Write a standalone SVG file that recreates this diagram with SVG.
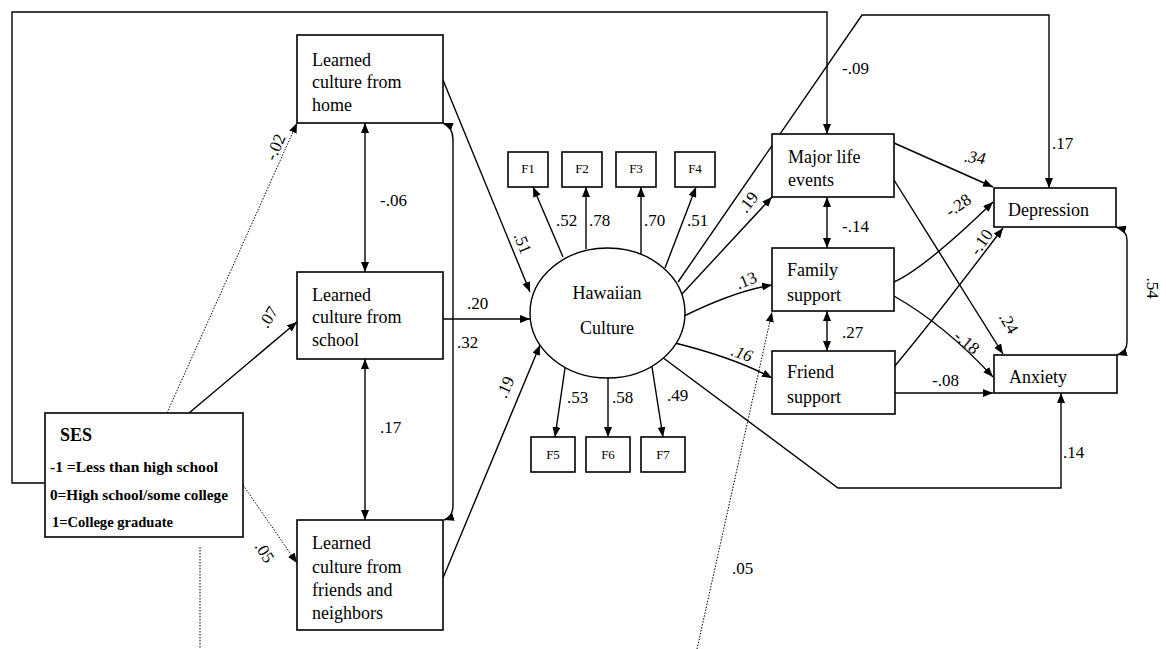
<svg xmlns="http://www.w3.org/2000/svg" width="1166" height="649" viewBox="0 0 1166 649">
<defs>
<marker id="ah" markerUnits="userSpaceOnUse" markerWidth="10" markerHeight="8" refX="10" refY="4" orient="auto-start-reverse">
<path d="M0,0 L10,4 L0,8 z" fill="#000"/>
</marker>
<style>
.box{fill:#fff;stroke:#000;stroke-width:1.6}
.t{font-family:"Liberation Serif","Times New Roman",serif;font-size:18px;fill:#000}
.f{font-family:"Liberation Serif","Times New Roman",serif;font-size:13px;fill:#000;text-anchor:middle}
.n{font-family:"Liberation Serif","Times New Roman",serif;font-size:17px;fill:#000}
.r{font-family:"Liberation Serif","Times New Roman",serif;font-size:17px;fill:#000;text-anchor:middle}
.s{font-family:"Liberation Serif","Times New Roman",serif;font-size:14px;font-weight:bold;fill:#000}
.c{fill:none;stroke:#000;stroke-width:1.4}
.a{marker-end:url(#ah)}
.d{marker-start:url(#ah);marker-end:url(#ah)}
.dot{fill:none;stroke:#000;stroke-width:1;stroke-dasharray:1.5,1.5}
</style>
</defs>
<rect width="1166" height="649" fill="#fff"/>

<g id="connectors">
<!-- SES to Major life events (-.09) -->
<path class="c a" d="M45 483 L12 483 L12 12 L827 12 L827 134"/>
<!-- SES to learned cultures -->
<path class="dot a" d="M167 413 L297 123"/>
<path class="c a" d="M189 413 L297 322"/>
<path class="dot a" d="M243 485 L297 563"/>
<path class="dot" d="M200 547 L200 649"/>
<!-- correlations among learned culture -->
<path class="c d" d="M365 123 L365 272"/>
<path class="c d" d="M365 359 L365 520"/>
<path class="c d" d="M443 123 Q453 127 453 140 L453 505 Q453 517 444 520"/>
<!-- learned culture to Hawaiian Culture -->
<path class="c a" d="M443 80 L530 292"/>
<path class="c a" d="M443 319 L530 319"/>
<path class="c a" d="M443 578 L540 345"/>
<!-- indicators -->
<path class="c a" d="M563 257 L533 187"/>
<path class="c a" d="M586 249 L586 187"/>
<path class="c a" d="M641 255 L641 187"/>
<path class="c a" d="M665 268 L696 187"/>
<path class="c a" d="M565 368 L555 437"/>
<path class="c a" d="M608 378 L608 437"/>
<path class="c a" d="M652 367 L663 437"/>
<!-- Hawaiian Culture to mediators/outcomes -->
<path class="c a" d="M678 282 L862 15 L1049 15 L1049 188"/>
<path class="c a" d="M682 294 L772 197"/>
<path class="c a" d="M684 316 Q735 291 772 285"/>
<path class="c a" d="M675 343 Q735 358 772 378"/>
<path class="c a" d="M662 357 L838 488 L1061 488 L1061 393"/>
<path class="dot a" d="M697 649 L772 312"/>
<!-- mediator correlations -->
<path class="c d" d="M827 197 L827 248"/>
<path class="c d" d="M827 311 L827 351"/>
<!-- mediators to outcomes -->
<path class="c a" d="M894 143 L993 187"/>
<path class="c a" d="M894 180 L1003 354"/>
<path class="c a" d="M894 282 Q925 268 993 202"/>
<path class="c a" d="M894 367 Q935 318 1003 228"/>
<path class="c a" d="M894 296 Q945 325 993 377"/>
<path class="c a" d="M894 393 L993 393"/>
<path class="c d" d="M1116 227 Q1127 230 1127 240 L1127 342 Q1127 352 1117 355"/>
</g>

<g id="labels">
<text class="r" transform="translate(275,147) rotate(-66)" dy="0.35em">-.02</text>
<text class="r" transform="translate(268,317) rotate(-58)" dy="0.35em">.07</text>
<text class="r" transform="translate(265,552) rotate(58)" dy="0.35em">.05</text>
<text class="n" x="380" y="206">-.06</text>
<text class="n" x="380" y="433">.17</text>
<text class="n" x="457" y="348">.32</text>
<text class="n" x="467" y="309">.20</text>
<text class="r" transform="translate(523,243) rotate(68)" dy="0.35em">.51</text>
<text class="r" transform="translate(505,387) rotate(-65)" dy="0.35em">.19</text>
<text class="n" x="556" y="226">.52</text>
<text class="n" x="589" y="226">.78</text>
<text class="n" x="644" y="226">.70</text>
<text class="n" x="687" y="226">.51</text>
<text class="n" x="567" y="403">.53</text>
<text class="n" x="612" y="403">.58</text>
<text class="n" x="667" y="401">.49</text>
<text class="r" transform="translate(748,202) rotate(-52)" dy="0.35em">.19</text>
<text class="r" transform="translate(746,280) rotate(-22)" dy="0.35em">.13</text>
<text class="r" transform="translate(742,353) rotate(20)" dy="0.35em" font-style="italic">.16</text>
<text class="n" x="842" y="74">-.09</text>
<text class="n" x="842" y="232">-.14</text>
<text class="n" x="842" y="338">.27</text>
<text class="n" x="1052" y="149">.17</text>
<text class="r" transform="translate(975,157) rotate(8)" dy="0.35em" font-style="italic">.34</text>
<text class="r" transform="translate(958,205) rotate(-35)" dy="0.35em">-.28</text>
<text class="r" transform="translate(981,242) rotate(-55)" dy="0.35em">-.10</text>
<text class="r" transform="translate(1009,323) rotate(60)" dy="0.35em">.24</text>
<text class="r" transform="translate(967,342) rotate(40)" dy="0.35em">-.18</text>
<text class="n" x="932" y="386">-.08</text>
<text class="r" transform="translate(1153,288) rotate(90)" dy="0.35em">.54</text>
<text class="n" x="1063" y="458">.14</text>
<text class="n" x="732" y="574">.05</text>
</g>

<g id="ses">
<rect class="box" x="45" y="413" width="198" height="124"/>
<text class="t" x="60" y="441" font-weight="bold">SES</text>
<text class="s" x="50" y="472" textLength="168" lengthAdjust="spacingAndGlyphs">-1 =Less than high school</text>
<text class="s" x="50" y="500" textLength="178" lengthAdjust="spacingAndGlyphs">0=High school/some college</text>
<text class="s" x="52" y="527" textLength="121" lengthAdjust="spacingAndGlyphs">1=College graduate</text>
</g>

<g id="home">
<rect class="box" x="297" y="35" width="146" height="88"/>
<text class="t" x="312" y="66">Learned</text>
<text class="t" x="312" y="88">culture from</text>
<text class="t" x="312" y="111">home</text>
</g>

<g id="school">
<rect class="box" x="297" y="272" width="146" height="87"/>
<text class="t" x="312" y="301">Learned</text>
<text class="t" x="312" y="323">culture from</text>
<text class="t" x="312" y="346">school</text>
</g>

<g id="friends">
<rect class="box" x="297" y="520" width="146" height="110"/>
<text class="t" x="312" y="549">Learned</text>
<text class="t" x="312" y="573">culture from</text>
<text class="t" x="312" y="596">friends and</text>
<text class="t" x="312" y="619">neighbors</text>
</g>

<g id="hawaiian">
<ellipse cx="607.5" cy="313" rx="77.5" ry="65" fill="#fff" stroke="#000" stroke-width="1.4"/>
<text class="t" x="607" y="299" text-anchor="middle">Hawaiian</text>
<text class="t" x="607" y="334" text-anchor="middle">Culture</text>
</g>

<g id="f1"><rect class="box" x="508" y="152" width="40" height="35"/><text class="f" x="528" y="173">F1</text></g>
<g id="f2"><rect class="box" x="562" y="152" width="40" height="35"/><text class="f" x="582" y="173">F2</text></g>
<g id="f3"><rect class="box" x="616" y="152" width="40" height="35"/><text class="f" x="636" y="173">F3</text></g>
<g id="f4"><rect class="box" x="675" y="152" width="40" height="35"/><text class="f" x="695" y="173">F4</text></g>
<g id="f5"><rect class="box" x="531" y="437" width="44" height="35"/><text class="f" x="553" y="459">F5</text></g>
<g id="f6"><rect class="box" x="586" y="437" width="44" height="35"/><text class="f" x="608" y="459">F6</text></g>
<g id="f7"><rect class="box" x="641" y="437" width="44" height="35"/><text class="f" x="663" y="459">F7</text></g>

<g id="major">
<rect class="box" x="772" y="134" width="122" height="63"/>
<text class="t" x="788" y="163">Major life</text>
<text class="t" x="788" y="186">events</text>
</g>

<g id="family">
<rect class="box" x="772" y="248" width="122" height="63"/>
<text class="t" x="787" y="276">Family</text>
<text class="t" x="787" y="301">support</text>
</g>

<g id="friend">
<rect class="box" x="772" y="351" width="123" height="63"/>
<text class="t" x="787" y="378">Friend</text>
<text class="t" x="787" y="403">support</text>
</g>

<g id="depression">
<rect class="box" x="994" y="188" width="122" height="39"/>
<text class="t" x="1008" y="216">Depression</text>
</g>

<g id="anxiety">
<rect class="box" x="994" y="355" width="123" height="38"/>
<text class="t" x="1009" y="383">Anxiety</text>
</g>
</svg>
